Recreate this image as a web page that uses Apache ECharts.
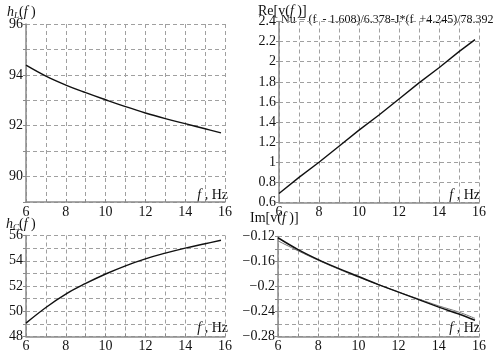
<!DOCTYPE html>
<html><head><meta charset="utf-8">
<script src="https://cdn.jsdelivr.net/npm/echarts@6/dist/echarts.min.js"></script>
<style>html,body{margin:0;padding:0;background:#fff}#c{width:500px;height:357px}</style>
</head><body><div id="c"></div>
<script>
// ---- data ----
var freq = [6, 7, 8, 9, 10, 11, 12, 13, 14, 15, 15.8];
var hL = [94.38, 93.95, 93.6, 93.3, 93.02, 92.75, 92.5, 92.28, 92.08, 91.88, 91.72];
var hC = [49.06, 50.3, 51.36, 52.2, 52.95, 53.6, 54.15, 54.6, 55.0, 55.35, 55.62];
var reV = [0.69, 0.85, 1.0, 1.16, 1.32, 1.47, 1.63, 1.79, 1.94, 2.10, 2.22];
var imV = [-0.122, -0.141, -0.157, -0.171, -0.184, -0.197, -0.209, -0.221, -0.233, -0.244, -0.254];
var imFit = [-0.127, -0.143, -0.158, -0.172, -0.185, -0.197, -0.209, -0.220, -0.231, -0.241, -0.251];
var formulaText = 'Nu = (f  - 1.608)/6.378-J*(f  +4.245)/78.392';

function pairs(xs, ys){ return xs.map(function(x,i){ return [x, ys[i]]; }); }

var FONT = '"Liberation Serif","Times New Roman",serif';
var AX = '#8a8a8a';
var GRIDC = '#a0a0a0';

function xAxisFor(idx){
  return {
    type:'value', gridIndex: idx, min:6, max:16, interval:1,
    axisLine:{show:true, onZero:false, lineStyle:{color:AX, width:1.5}},
    axisTick:{show:true, length:3, inside:true, lineStyle:{color:AX}},
    splitLine:{show:true, lineStyle:{color:GRIDC, type:[4,3], width:1}},
    axisLabel:{color:'#111', fontFamily:FONT, fontSize:14, margin:3,
      formatter:function(v){ return (Math.round(v) % 2 === 0) ? String(v) : ''; }}
  };
}
function yAxisFor(idx, min, max, interval, fmt){
  return {
    type:'value', gridIndex: idx, min:min, max:max, interval:interval,
    axisLine:{show:true, onZero:false, lineStyle:{color:AX, width:1.5}},
    axisTick:{show:true, length:3, inside:false, lineStyle:{color:AX}},
    splitLine:{show:true, lineStyle:{color:GRIDC, type:[4,3], width:1}},
    axisLabel:{color:'#111', fontFamily:FONT, fontSize:14, margin:3, formatter:fmt}
  };
}
var rich = {
  i:{fontFamily:FONT, fontStyle:'italic', fontSize:14, fill:'#111'},
  s:{fontFamily:FONT, fontStyle:'italic', fontSize:9, fill:'#111', padding:[7,0,0,0]},
  n:{fontFamily:FONT, fontSize:14, fill:'#111'}
};
function label(pos, txt){
  var g = {type:'text', style:{rich:rich, text:txt}};
  for (var k in pos) g[k] = pos[k];
  return g;
}

var chart = echarts.init(document.getElementById('c'), null, {renderer:'canvas'});
var option = {
  animation:false,
  backgroundColor:'#fff',
  grid:[
    {left:26, top:24, width:199, height:178},
    {left:279, top:21.5, width:200, height:181},
    {left:26, top:235.5, width:199, height:101},
    {left:278, top:236.5, width:201, height:100}
  ],
  xAxis:[xAxisFor(0), xAxisFor(1), xAxisFor(2), xAxisFor(3)],
  yAxis:[
    yAxisFor(0, 89, 96, 1, function(v){ return (v % 2 === 0) ? String(v) : ''; }),
    yAxisFor(1, 0.6, 2.4, 0.2, function(v){ return String(Math.round(v*10)/10); }),
    yAxisFor(2, 48, 56, 1, function(v){ return (v % 2 === 0) ? String(v) : ''; }),
    yAxisFor(3, -0.28, -0.12, 0.02, function(v){
      var k = Math.round(Math.abs(v)*100);
      if (k % 4 !== 0) return '';
      return String(Math.round(v*100)/100).replace('-', '\u2212');
    })
  ],
  series:[
    {type:'line', xAxisIndex:0, yAxisIndex:0, data:pairs(freq,hL), smooth:0.4, symbol:'none', lineStyle:{color:'#111', width:1.4}},
    {type:'line', xAxisIndex:1, yAxisIndex:1, data:pairs(freq,reV), smooth:false, symbol:'none', lineStyle:{color:'#111', width:1.4}},
    {type:'line', xAxisIndex:2, yAxisIndex:2, data:pairs(freq,hC), smooth:0.4, symbol:'none', lineStyle:{color:'#111', width:1.4}},
    {type:'line', xAxisIndex:3, yAxisIndex:3, data:pairs(freq,imFit), smooth:0.4, symbol:'none', lineStyle:{color:'#777', width:1}},
    {type:'line', xAxisIndex:3, yAxisIndex:3, data:pairs(freq,imV), smooth:0.4, symbol:'none', lineStyle:{color:'#111', width:1.5}}
  ],
  graphic:[
    label({left:7, top:5}, '{i|h}{s|L}{n|(}{i|f}{n| )}'),
    label({left:6, top:217}, '{i|h}{s|C}{n|(}{i|f}{n| )}'),
    label({left:258, top:4}, '{n|Re[v(}{i|f}{n| )]}'),
    label({left:250, top:211}, '{n|Im[v(}{i|f}{n| )]}'),
    label({right:272, top:188}, '{i|f}{n| , Hz}'),
    label({right:20, top:188}, '{i|f}{n| , Hz}'),
    label({right:272, top:321}, '{i|f}{n| , Hz}'),
    label({right:20, top:321}, '{i|f}{n| , Hz}'),
    {type:'text', left:281, top:14, style:{text:formulaText, fontFamily:FONT, fontSize:12, fill:'#111'}}
  ]
};
chart.setOption(option);
</script></body></html>
